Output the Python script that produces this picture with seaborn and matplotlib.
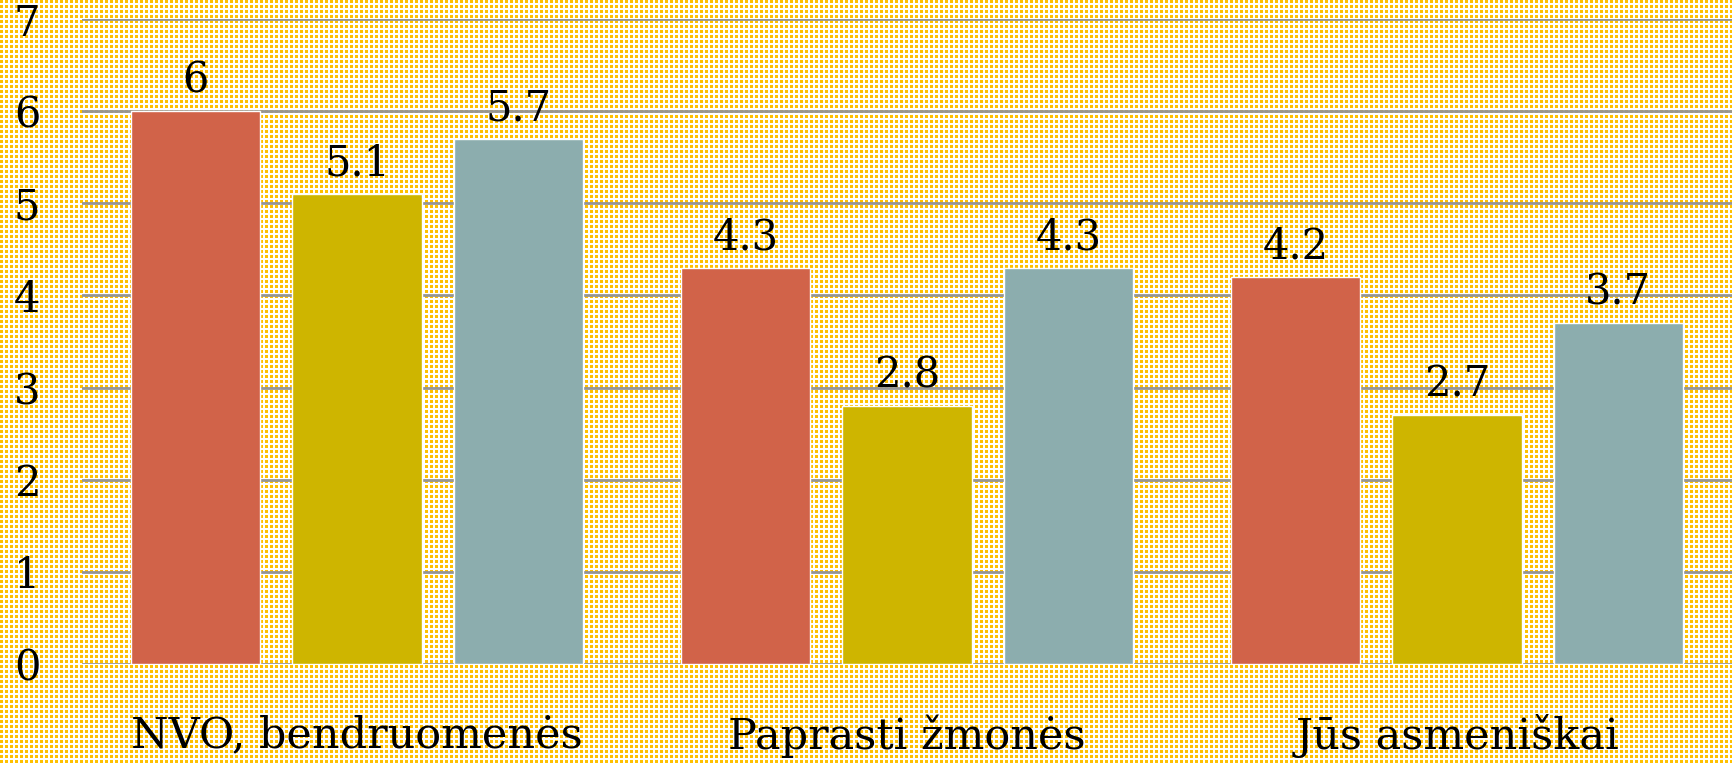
import matplotlib
matplotlib.use("Agg")
import matplotlib.pyplot as plt
import seaborn as sns
import pandas as pd
import numpy as np

categories = ["NVO, bendruomenės", "Paprasti žmonės", "Jūs asmeniškai"]
series_names = ["Serija 1", "Serija 2", "Serija 3"]
series1 = [6.0, 4.3, 4.2]
series2 = [5.1, 2.8, 2.7]
series3 = [5.7, 4.3, 3.7]
yticks = [0, 1, 2, 3, 4, 5, 6, 7]
colors = ["#D16349", "#CEB500", "#8CADAE"]

rows = []
for name, vals in zip(series_names, [series1, series2, series3]):
    for c, v in zip(categories, vals):
        rows.append({"cat": c, "val": v, "series": name})
df = pd.DataFrame(rows)

sns.set_theme(style="white")
plt.rcParams["font.family"] = ["DejaVu Serif"]

W, H = 1732, 763
fig = plt.figure(figsize=(W / 100, H / 100), dpi=100, facecolor="white")

# dotted yellow background texture
yy, xx = np.mgrid[0:H, 0:W]
mask = ((xx % 5) < 3) & ((yy % 5) < 3)
tex = np.ones((H, W, 3))
tex[mask] = np.array([255, 192, 0]) / 255.0
fig.figimage(tex, 0, 0, zorder=0)

ax = fig.add_axes([82 / W, 1 - 664 / H, 1 - 82 / W, (664 - 19) / H])
ax.set_facecolor("none")
ax.set_zorder(2)

sns.barplot(data=df, x="cat", y="val", hue="series", palette=colors,
            width=0.88, gap=0.2, ax=ax, legend=False,
            edgecolor="white", linewidth=1, saturation=1, zorder=3)

ax.set_ylim(0, 7)
ax.set_xlim(-0.5, 2.5)
ax.set_yticks(yticks)
ax.set_yticklabels([str(t) for t in yticks], fontsize=30, color="black")
for y in yticks:
    ax.axhline(y, color="#959595", linewidth=2.0, zorder=1)
ax.tick_params(axis="y", length=0, pad=30)
ax.tick_params(axis="x", length=0, pad=36, labelsize=31, labelcolor="black")
for s in ax.spines.values():
    s.set_visible(False)
ax.set_xlabel("")
ax.set_ylabel("")

for cont in ax.containers:
    ax.bar_label(cont, fmt="%g", padding=7, fontsize=30, color="black")

fig.savefig("out.png", dpi=100)
